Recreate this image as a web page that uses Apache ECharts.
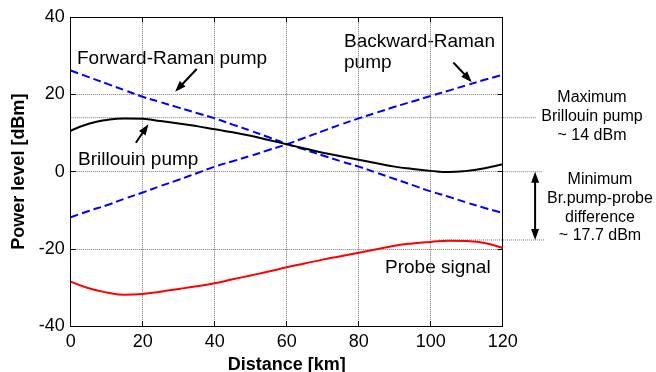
<!DOCTYPE html>
<html>
<head>
<meta charset="utf-8">
<script src="https://cdn.jsdelivr.net/npm/echarts@6/dist/echarts.min.js"></script>
<style>
  html, body { margin: 0; padding: 0; background: #fff; }
  #chart { width: 656px; height: 372px; }
</style>
</head>
<body>
<div id="chart"></div>
<script>
// distance along the fibre [km]
const distance = [0, 5, 10, 15, 20, 25, 30, 35, 40, 45, 50, 55, 60, 65, 70, 75, 80, 85, 90, 95, 100, 105, 110, 115, 120]
// power levels [dBm]
const forwardRaman = [26.2, 24.5, 22.8, 21.1, 19.4, 18.0, 16.6, 15.2, 13.8, 12.2, 10.6, 8.9, 7.2, 5.7, 4.2, 2.7, 1.3, -0.3, -1.9, -3.5, -5.1, -6.5, -8.0, -9.4, -10.7]
const backwardRaman = [-11.8, -10.2, -8.7, -7.0, -5.4, -3.7, -2.1, -0.4, 1.3, 2.7, 4.1, 5.6, 7.1, 8.8, 10.5, 12.2, 13.8, 15.3, 16.8, 18.2, 19.6, 21.0, 22.4, 23.8, 25.1]
const brillouinPump = [10.6, 12.4, 13.4, 13.8, 13.7, 13.1, 12.5, 11.8, 11.0, 10.2, 9.3, 8.2, 7.1, 6.0, 4.9, 4.0, 3.1, 2.2, 1.3, 0.7, 0.2, -0.1, 0.2, 0.9, 1.9]
const probeSignal = [-28.5, -30.2, -31.3, -31.9, -31.7, -31.1, -30.4, -29.7, -28.9, -27.9, -26.9, -25.9, -24.8, -23.8, -22.8, -21.9, -21.0, -20.1, -19.2, -18.6, -18.2, -17.9, -18.0, -18.5, -19.8]

// annotation guide lines [x1, y1, x2, y2] in data units
const guideLines = [[0, 14, 129.3, 14], [120, 0, 130.9, 0], [102.3, -17.7, 131.8, -17.7]]
// arrows [xTail, yTail, xHead, yHead, doubleHeaded]
const arrows = [[35.0, 26.6, 29.0, 20.7, 0], [18.1, 7.5, 21.6, 12.3, 0], [106.3, 28.3, 111.4, 23.2, 0], [129, 0, 129, -17.7, 1]]

const font = '"Liberation Sans", Arial, sans-serif'
const chart = echarts.init(document.getElementById('chart'))

function pairs(values) {
  return distance.map((d, i) => [d, values[i]])
}

function drawGuide(params, api) {
  const a = api.coord([api.value(0), api.value(1)])
  const b = api.coord([api.value(2), api.value(3)])
  return {
    type: 'line',
    shape: { x1: a[0], y1: a[1], x2: b[0], y2: b[1] },
    style: { stroke: '#777', lineWidth: 1, lineDash: [1, 1] }
  }
}

function head(tip, ux, uy) {
  const L = 11, W = 4
  return {
    type: 'polygon',
    shape: { points: [tip, [tip[0] - L * ux + W * uy, tip[1] - L * uy - W * ux], [tip[0] - L * ux - W * uy, tip[1] - L * uy + W * ux]] },
    style: { fill: '#000' }
  }
}

function drawArrow(params, api) {
  const a = api.coord([api.value(0), api.value(1)])
  const b = api.coord([api.value(2), api.value(3)])
  const both = api.value(4) === 1
  const len = Math.hypot(b[0] - a[0], b[1] - a[1])
  const ux = (b[0] - a[0]) / len, uy = (b[1] - a[1]) / len
  const s = both ? [a[0] + 8 * ux, a[1] + 8 * uy] : a
  const e = [b[0] - 8 * ux, b[1] - 8 * uy]
  const children = [
    { type: 'line', shape: { x1: s[0], y1: s[1], x2: e[0], y2: e[1] }, style: { stroke: '#000', lineWidth: 2 } },
    head(b, ux, uy)
  ]
  if (both) children.push(head(a, -ux, -uy))
  return { type: 'group', children }
}

const tickStyle = { inside: true, length: 5, lineStyle: { color: '#000' } }
const gridStyle = { show: true, lineStyle: { color: '#777', type: [1, 1], width: 1 } }

const option = {
  animation: false,
  backgroundColor: '#fff',
  textStyle: { fontFamily: font },
  grid: { left: 70.7, right: 153.3, top: 17.3, bottom: 46, containLabel: false, outerBoundsMode: 'none' },
  xAxis: [
    {
      type: 'value', min: 0, max: 120, interval: 20,
      name: 'Distance [km]', nameLocation: 'middle', nameGap: 28,
      nameTextStyle: { fontSize: 18, fontWeight: 'bold', color: '#000', fontFamily: font },
      axisLine: { onZero: false, lineStyle: { color: '#000', width: 1 } },
      axisTick: tickStyle,
      axisLabel: { fontSize: 18, color: '#000', margin: 7, fontFamily: font },
      splitLine: gridStyle
    },
    {
      type: 'value', min: 0, max: 120, interval: 20, position: 'top',
      axisLine: { show: true, onZero: false, lineStyle: { color: '#000', width: 1 } },
      axisTick: tickStyle, axisLabel: { show: false }, splitLine: { show: false }
    }
  ],
  yAxis: [
    {
      type: 'value', min: -40, max: 40, interval: 20,
      name: 'Power level [dBm]', nameLocation: 'middle', nameGap: 37,
      nameTextStyle: { fontSize: 18, fontWeight: 'bold', color: '#000', fontFamily: font },
      axisLine: { show: true, onZero: false, lineStyle: { color: '#000', width: 1 } },
      axisTick: tickStyle,
      axisLabel: { fontSize: 18, color: '#000', margin: 6, fontFamily: font },
      splitLine: gridStyle
    },
    {
      type: 'value', min: -40, max: 40, interval: 20, position: 'right',
      axisLine: { show: true, onZero: false, lineStyle: { color: '#000', width: 1 } },
      axisTick: tickStyle, axisLabel: { show: false }, splitLine: { show: false }
    }
  ],
  series: [
    {
      type: 'custom', name: 'guides', renderItem: drawGuide, clip: false, silent: true,
      data: guideLines, z: 1
    },
    {
      name: 'Forward-Raman pump', type: 'line', data: pairs(forwardRaman), smooth: true, showSymbol: false,
      lineStyle: { color: '#0000ff', width: 2, type: [8, 4] }, z: 3
    },
    {
      name: 'Backward-Raman pump', type: 'line', data: pairs(backwardRaman), smooth: true, showSymbol: false,
      lineStyle: { color: '#0000ff', width: 2, type: [8, 4] }, z: 3
    },
    {
      name: 'Brillouin pump', type: 'line', data: pairs(brillouinPump), smooth: true, showSymbol: false,
      lineStyle: { color: '#000', width: 2 }, z: 4
    },
    {
      name: 'Probe signal', type: 'line', data: pairs(probeSignal), smooth: true, showSymbol: false,
      lineStyle: { color: '#ff0000', width: 2 }, z: 4
    },
    {
      type: 'custom', name: 'arrows', renderItem: drawArrow, clip: false, silent: true,
      data: arrows, z: 5
    }
  ],
  graphic: [
    { type: 'text', left: 77, top: 49, style: { text: 'Forward-Raman pump', font: '19px ' + font, fill: '#000' } },
    { type: 'text', left: 78, top: 150, style: { text: 'Brillouin pump', font: '19px ' + font, fill: '#000' } },
    { type: 'text', left: 344, top: 31, style: { text: 'Backward-Raman\npump', font: '19px ' + font, fill: '#000', lineHeight: 21 } },
    { type: 'text', left: 385, top: 258, style: { text: 'Probe signal', font: '19px ' + font, fill: '#000' } },
    { type: 'text', x: 592, y: 117, style: { text: 'Maximum\nBrillouin pump\n~ 14 dBm', font: '16px ' + font, fill: '#000', align: 'center', verticalAlign: 'middle', lineHeight: 19 } },
    { type: 'text', x: 600, y: 208, style: { text: 'Minimum\nBr.pump-probe\ndifference\n~ 17.7 dBm', font: '16px ' + font, fill: '#000', align: 'center', verticalAlign: 'middle', lineHeight: 18.7 } }
  ]
}

chart.setOption(option)
</script>
</body>
</html>
